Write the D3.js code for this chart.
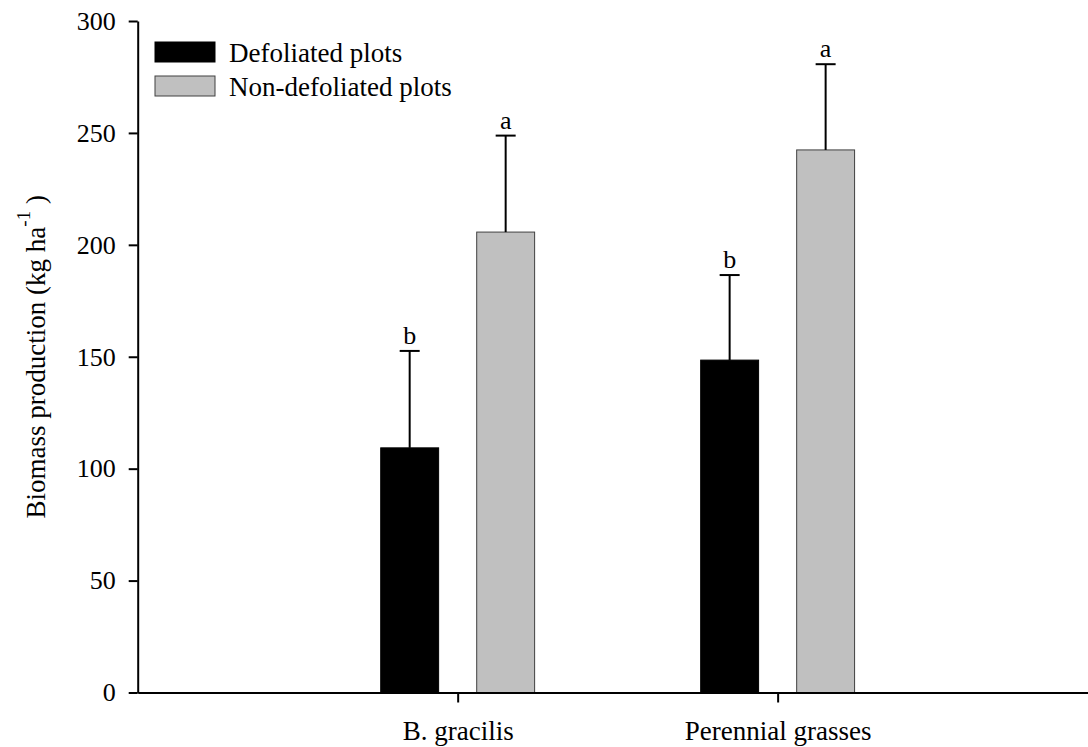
<!DOCTYPE html>
<html>
<head>
<meta charset="utf-8">
<script src="https://cdn.jsdelivr.net/npm/d3@7"></script>
<style>
  html, body { margin: 0; padding: 0; background: #fff; }
  svg { display: block; }
  text { font-family: "Liberation Serif", "Times New Roman", Times, serif; fill: #000; }
</style>
</head>
<body>
<svg id="chart" width="1088" height="747"></svg>
<script>
// ---- data ----
const categories = ["B. gracilis", "Perennial grasses"];
const seriesNames = ["Defoliated plots", "Non-defoliated plots"];
const defoliated = [109.3, 148.5];
const defoliatedErr = [43.3, 38.0];
const nonDefoliated = [205.7, 242.4];
const nonDefoliatedErr = [43.1, 38.3];
const defoliatedLetters = ["b", "b"];
const nonDefoliatedLetters = ["a", "a"];
const yTicks = [0, 50, 100, 150, 200, 250, 300];
const yLabelMain = "Biomass production (kg ha";
const yLabelSup = "-1";
const yLabelEnd = " )";

// ---- layout ----
const svg = d3.select("#chart");
const serif = "Liberation Serif, Times New Roman, serif";
const x0 = 137.7, x1 = 1088, yTop = 21, yBottom = 692.5;
const x = d3.scaleLinear().domain([0, 2.97]).range([x0, x1]);
const y = d3.scaleLinear().domain([0, 300]).range([yBottom, yTop]);
const barOffset = 0.15, barW = 0.181, capHalf = 10;
const fontSize = 27;

const series = [
  { name: seriesNames[0], values: defoliated, errs: defoliatedErr, letters: defoliatedLetters, off: -barOffset, fill: "#000000", stroke: "#000000" },
  { name: seriesNames[1], values: nonDefoliated, errs: nonDefoliatedErr, letters: nonDefoliatedLetters, off: barOffset, fill: "#c0c0c0", stroke: "#404040" }
];

// bars
series.forEach(s => {
  const g = svg.append("g");
  categories.forEach((c, i) => {
    const cx = x(i + 1 + s.off);
    const left = x(i + 1 + s.off - barW / 2);
    const right = x(i + 1 + s.off + barW / 2);
    g.append("rect")
      .attr("x", left).attr("y", y(s.values[i]))
      .attr("width", right - left).attr("height", y(0) - y(s.values[i]))
      .attr("fill", s.fill).attr("stroke", s.stroke).attr("stroke-width", 1);
    const top = y(s.values[i] + s.errs[i]);
    g.append("line")
      .attr("x1", cx).attr("x2", cx).attr("y1", y(s.values[i])).attr("y2", top)
      .attr("stroke", "#000").attr("stroke-width", 2);
    g.append("line")
      .attr("x1", cx - capHalf).attr("x2", cx + capHalf).attr("y1", top).attr("y2", top)
      .attr("stroke", "#000").attr("stroke-width", 2);
    g.append("text")
      .attr("x", cx).attr("y", top - 7)
      .attr("text-anchor", "middle").attr("font-size", 26).attr("font-family", serif)
      .text(s.letters[i]);
  });
});

// y axis
const yAxis = d3.axisLeft(y).tickValues(yTicks).tickSize(9).tickSizeOuter(0).tickPadding(13);
const gy = svg.append("g").attr("transform", `translate(${x0},0)`).call(yAxis)
  .attr("font-family", serif);
gy.select(".domain").attr("stroke", "#000").attr("stroke-width", 2);
gy.selectAll(".tick line").attr("stroke", "#000").attr("stroke-width", 2);
gy.selectAll(".tick text").attr("font-size", 26).attr("font-family", serif).attr("fill", "#000");

// x axis
const xAxis = d3.axisBottom(x).tickValues([1, 2]).tickFormat((d, i) => categories[i])
  .tickSize(10).tickSizeOuter(0).tickPadding(18);
const gx = svg.append("g").attr("transform", `translate(0,${yBottom})`).call(xAxis)
  .attr("font-family", serif);
gx.select(".domain").attr("stroke", "#000").attr("stroke-width", 2);
gx.selectAll(".tick line").attr("stroke", "#000").attr("stroke-width", 2);
gx.selectAll(".tick text").attr("font-size", fontSize).attr("font-family", serif).attr("fill", "#000");

// y label
const yl = svg.append("text")
  .attr("transform", `translate(45,${(yTop + yBottom) / 2}) rotate(-90)`)
  .attr("text-anchor", "middle").attr("font-size", fontSize).attr("font-family", serif);
yl.append("tspan").text(yLabelMain);
yl.append("tspan").attr("dy", -15).attr("font-size", 19).text(yLabelSup);
yl.append("tspan").attr("dy", 15).text(yLabelEnd);

// legend
const legend = svg.append("g");
series.forEach((s, i) => {
  const ly = 42 + i * 34;
  legend.append("rect")
    .attr("x", 155).attr("y", ly).attr("width", 60).attr("height", 20)
    .attr("fill", s.fill).attr("stroke", s.stroke).attr("stroke-width", 1);
  legend.append("text")
    .attr("x", 229).attr("y", ly + 20)
    .attr("font-size", fontSize).attr("font-family", serif).text(s.name);
});
</script>
</body>
</html>
